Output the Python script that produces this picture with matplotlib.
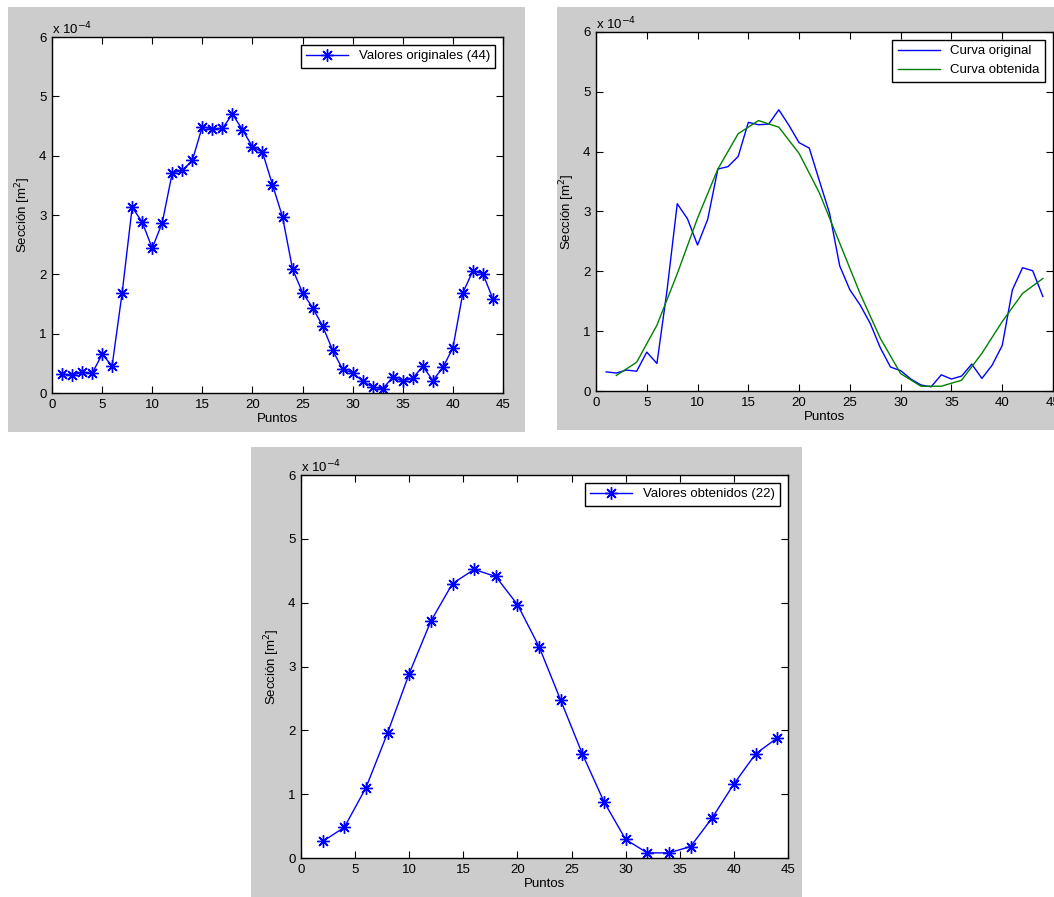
import matplotlib.pyplot as plt
from matplotlib.patches import Rectangle
from matplotlib.ticker import FuncFormatter

plt.rcParams['font.family'] = ['Liberation Sans', 'DejaVu Sans']
plt.rcParams['font.size'] = 9.5

# values in units of 1e-4 m^2
SCALE = 1e-4
x_orig = list(range(1, 45))
y_orig = [0.32, 0.30, 0.35, 0.33, 0.65, 0.46, 1.69, 3.13, 2.88, 2.44,
          2.87, 3.71, 3.75, 3.92, 4.49, 4.45, 4.46, 4.70, 4.44, 4.15,
          4.06, 3.51, 2.97, 2.09, 1.69, 1.44, 1.13, 0.72, 0.40, 0.34,
          0.20, 0.10, 0.07, 0.27, 0.20, 0.25, 0.45, 0.21, 0.43, 0.76,
          1.69, 2.06, 2.01, 1.58]
x_fit = list(range(2, 45, 2))
y_fit = [0.26, 0.48, 1.10, 1.96, 2.89, 3.71, 4.30, 4.52, 4.41, 3.97,
         3.31, 2.47, 1.63, 0.88, 0.29, 0.08, 0.08, 0.18, 0.63, 1.16,
         1.63, 1.88]

W, H = 1054, 897
fig = plt.figure(figsize=(W / 100, H / 100), dpi=100)
GRAY = '#cccccc'
STAR = (8, 2, 0)  # matlab-like asterisk


def px_box(l, t, r, b):
    return [l / W, 1 - b / H, (r - l) / W, (b - t) / H]


# gray panel backgrounds
for (l, t, r, b) in [(8, 7, 525, 432), (557, 7, 1054, 430), (251, 447, 802, 897)]:
    fig.patches.append(Rectangle((l / W, 1 - b / H), (r - l) / W, (b - t) / H,
                                 transform=fig.transFigure, facecolor=GRAY,
                                 edgecolor='none', zorder=-10))


def style(ax):
    ax.set_xlim(0, 45)
    ax.set_ylim(0, 6 * SCALE)
    ax.set_xticks(range(0, 46, 5))
    ax.set_yticks([i * SCALE for i in range(7)])
    ax.yaxis.set_major_formatter(FuncFormatter(lambda v, p: '%d' % round(v / SCALE)))
    ax.tick_params(direction='in', top=True, right=True, length=5, width=0.8,
                   labelsize=9.5, pad=4)
    ax.set_xlabel('Puntos', labelpad=2)
    ax.set_ylabel('Sección [m$^2$]', labelpad=4)
    for s in ax.spines.values():
        s.set_linewidth(1.0)
    ax.text(0.0, 1.0, 'x 10$^{-4}$', transform=ax.transAxes, ha='left', va='bottom',
            fontsize=9.5)


def legend(ax, loc='upper right'):
    lg = ax.legend(loc=loc, fancybox=False, framealpha=1, edgecolor='black',
                   borderaxespad=0.6, handlelength=3.2, fontsize=9.5)
    lg.get_frame().set_linewidth(1.0)


# panel 1: original values
ax1 = fig.add_axes(px_box(52, 37, 503, 393))
ax1.plot(x_orig, [v * SCALE for v in y_orig], color='blue', lw=1,
         marker=STAR, markersize=9, markeredgewidth=1.0, label='Valores originales (44)')
style(ax1)
legend(ax1)

# panel 2: original vs fitted curve
ax2 = fig.add_axes(px_box(596, 32, 1053, 391))
ax2.plot(x_orig, [v * SCALE for v in y_orig], color='blue', lw=1, label='Curva original')
ax2.plot(x_fit, [v * SCALE for v in y_fit], color='#008000', lw=1, label='Curva obtenida')
style(ax2)
legend(ax2)

# panel 3: obtained values
ax3 = fig.add_axes(px_box(301, 475, 788, 858))
ax3.plot(x_fit, [v * SCALE for v in y_fit], color='blue', lw=1,
         marker=STAR, markersize=9, markeredgewidth=1.0, label='Valores obtenidos (22)')
style(ax3)
legend(ax3)

fig.savefig('out.png', dpi=100)
